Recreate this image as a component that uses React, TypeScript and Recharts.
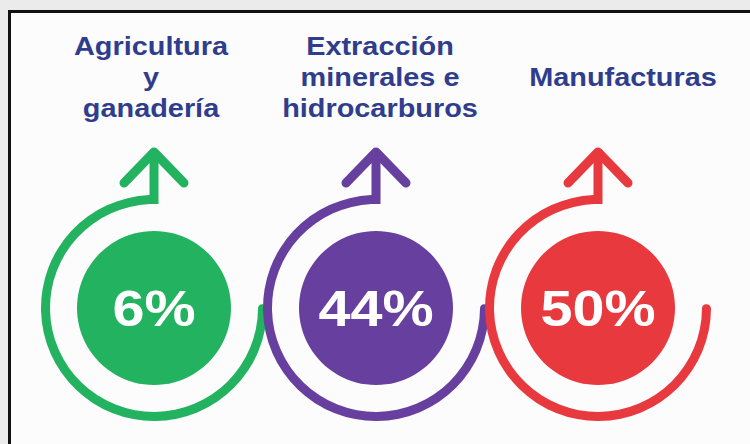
import { Customized, Pie, PieChart } from 'recharts';

const sectors = ['Agricultura y ganadería', 'Extracción minerales e hidrocarburos', 'Manufacturas'];
const titleLines = [['Agricultura', 'y', 'ganadería'], ['Extracción', 'minerales e', 'hidrocarburos'], ['Manufacturas']];
const shares = [6, 44, 50];
const COLORS = ['#23b25f', '#673f9f', '#e8393e'];

const CENTERS_X = [154, 376, 598];
const CENTER_Y = 308;
const TITLE_DX = [-3, 4, 25];
const TIP_Y = 152;

const Titles = () => (
    <g>
        {titleLines.map((lines, i) => {
            const top = 86 - ((lines.length - 1) * 31) / 2;
            return lines.map((line, j) => (
                <text
                    key={`t-${i}-${j}`}
                    transform={`translate(${CENTERS_X[i] + TITLE_DX[i]},${top + j * 31}) scale(1.09,1)`}
                    textAnchor="middle"
                    fontFamily="'Liberation Sans', Arial, sans-serif"
                    fontWeight="bold"
                    fontSize={26.5}
                    fill="#2f3d8c"
                >
                    {line}
                </text>
            ));
        })}
    </g>
);

const Arrows = () => (
    <g>
        {CENTERS_X.map((cx, i) => (
            <g key={`a-${i}`} stroke={COLORS[i]} strokeWidth={9} fill="none">
                <line x1={cx} y1={CENTER_Y - 104} x2={cx} y2={TIP_Y + 2} strokeLinecap="butt"/>
                <polyline
                    points={`${cx - 30},${TIP_Y + 31} ${cx},${TIP_Y} ${cx + 30},${TIP_Y + 31}`}
                    strokeLinecap="round"
                    strokeLinejoin="round"
                />
            </g>
        ))}
    </g>
);

const renderShare = (props: any) => (
    <text
        transform={`translate(${props.cx},${props.cy + 18}) scale(1.15,1)`}
        textAnchor="middle"
        fontFamily="'Liberation Sans', Arial, sans-serif"
        fontWeight="bold"
        fontSize={50}
        fill="#ffffff"
    >
        {`${props.value}%`}
    </text>
);

export default function App() {
    return (
        <div style={{position: 'absolute', left: 0, top: 0, width: 750, height: 444, background: '#ebebeb', overflow: 'hidden'}}>
            <div style={{
                position: 'absolute', left: 8, top: 10, width: 800, height: 500,
                borderTop: '3px solid #111', borderLeft: '3px solid #111', background: '#fcfcfc',
            }}/>
            <div style={{position: 'absolute', left: 0, top: 0}}>
                <PieChart width={750} height={444} margin={{top: 0, right: 0, bottom: 0, left: 0}}>
                    {shares.map((share, i) => (
                        <Pie
                            key={`ring-${i}`}
                            data={[{name: sectors[i], value: share}]}
                            dataKey="value"
                            cx={CENTERS_X[i]}
                            cy={CENTER_Y}
                            innerRadius={104}
                            outerRadius={113}
                            startAngle={90}
                            endAngle={362}
                            cornerRadius={4.5}
                            fill={COLORS[i]}
                            stroke="none"
                            isAnimationActive={false}
                        />
                    ))}
                    {shares.map((share, i) => (
                        <Pie
                            key={`disc-${i}`}
                            data={[{name: sectors[i], value: share}]}
                            dataKey="value"
                            cx={CENTERS_X[i]}
                            cy={CENTER_Y}
                            innerRadius={0}
                            outerRadius={77}
                            startAngle={90}
                            endAngle={450}
                            fill={COLORS[i]}
                            stroke="none"
                            label={renderShare}
                            labelLine={false}
                            isAnimationActive={false}
                        />
                    ))}
                    <Customized component={Arrows}/>
                    <Customized component={Titles}/>
                </PieChart>
            </div>
        </div>
    );
}
